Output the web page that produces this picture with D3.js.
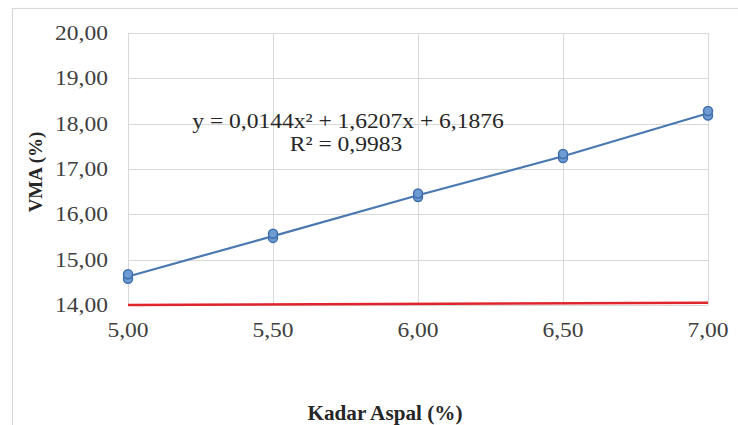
<!DOCTYPE html>
<html><head><meta charset="utf-8">
<script src="https://cdn.jsdelivr.net/npm/d3@7"></script>
<style>body{margin:0;background:#fff}svg{display:block}</style>
</head><body><svg id="c" width="738" height="425"></svg>
<script>
const kadar = [5.0, 5.5, 6.0, 6.5, 7.0];
const vmaA = [14.58, 15.48, 16.38, 17.24, 18.18];
const vmaB = [14.68, 15.57, 16.46, 17.33, 18.28];
const vmaMean = [14.63, 15.52, 16.42, 17.28, 18.23];
const minX = [5.0, 7.0];
const minY = [14.0, 14.05];
const yTicks = [14, 15, 16, 17, 18, 19, 20];
const xTicks = [5.0, 5.5, 6.0, 6.5, 7.0];
const eqLine1 = "y = 0,0144x² + 1,6207x + 6,1876";
const eqLine2 = "R² = 0,9983";

const svg = d3.select("#c");
const FONT = "Liberation Serif, Times New Roman, serif";
const fmt = v => d3.format(".2f")(v).replace(".", ",");
const x = d3.scaleLinear().domain([5, 7]).range([128, 708]);
const y = d3.scaleLinear().domain([14, 20]).range([305, 33]);

function stext(g, px, py, sx, txt, opts) {
  const t = g.append("text")
    .attr("transform", `translate(${px},${py}) scale(${sx},1)`)
    .attr("font-family", FONT).attr("font-size", opts.size)
    .attr("text-anchor", opts.anchor || "middle")
    .attr("fill", opts.fill || "#404040")
    .text(txt);
  if (opts.bold) t.attr("font-weight", "bold");
  if (opts.dy) t.attr("dy", opts.dy);
  return t;
}

svg.append("rect").attr("x", 12.5).attr("y", 8.5).attr("width", 760).attr("height", 460)
  .attr("fill", "#fff").attr("stroke", "#d9d9d9").attr("stroke-width", 1.2);

// gridlines
svg.append("g").selectAll("line").data(yTicks).join("line")
  .attr("x1", x(5)).attr("x2", x(7)).attr("y1", d => Math.round(y(d)) + 0.5).attr("y2", d => Math.round(y(d)) + 0.5)
  .attr("stroke", "#d9d9d9").attr("stroke-width", 1);
svg.append("g").selectAll("line").data(xTicks).join("line")
  .attr("y1", y(20)).attr("y2", y(14)).attr("x1", d => Math.round(x(d)) + 0.5).attr("x2", d => Math.round(x(d)) + 0.5)
  .attr("stroke", "#d9d9d9").attr("stroke-width", 1);

// tick labels
const gy = svg.append("g");
yTicks.forEach(d => stext(gy, 108, y(d), 1.12, fmt(d), {size: 21, anchor: "end", dy: "0.33em"}));
const gx = svg.append("g");
xTicks.forEach(d => stext(gx, x(d), 337, 1.12, fmt(d), {size: 21, anchor: "middle"}));

// red min line
svg.append("path").datum(minX.map((d, i) => [d, minY[i]]))
  .attr("d", d3.line().x(d => x(d[0])).y(d => y(d[1])))
  .attr("fill", "none").attr("stroke", "#e0242c").attr("stroke-width", 2.5);

// blue line
svg.append("path").datum(kadar.map((d, i) => [d, vmaMean[i]]))
  .attr("d", d3.line().x(d => x(d[0])).y(d => y(d[1])))
  .attr("fill", "none").attr("stroke", "#4a78b0").attr("stroke-width", 2.2);

// markers
const pts = kadar.flatMap((d, i) => [[d, vmaA[i]], [d, vmaB[i]]]);
svg.append("g").selectAll("circle").data(pts).join("circle")
  .attr("cx", d => x(d[0])).attr("cy", d => y(d[1])).attr("r", 4.5)
  .attr("fill", "#6f9bd3").attr("stroke", "#3f6fab").attr("stroke-width", 1.5);

// equation
const ge = svg.append("g");
stext(ge, 348, 128, 1.07, eqLine1, {size: 22, fill: "#262626"});
stext(ge, 346, 151, 1.07, eqLine2, {size: 22, fill: "#262626"});

// axis titles
svg.append("text").attr("transform", "translate(42,172) rotate(-90)").attr("text-anchor", "middle")
  .attr("font-family", FONT).attr("font-weight", "bold").attr("font-size", 19).attr("fill", "#262626").text("VMA (%)");
stext(svg, 385, 420, 1.06, "Kadar Aspal (%)", {size: 20, bold: true, fill: "#262626"});
</script></body></html>
